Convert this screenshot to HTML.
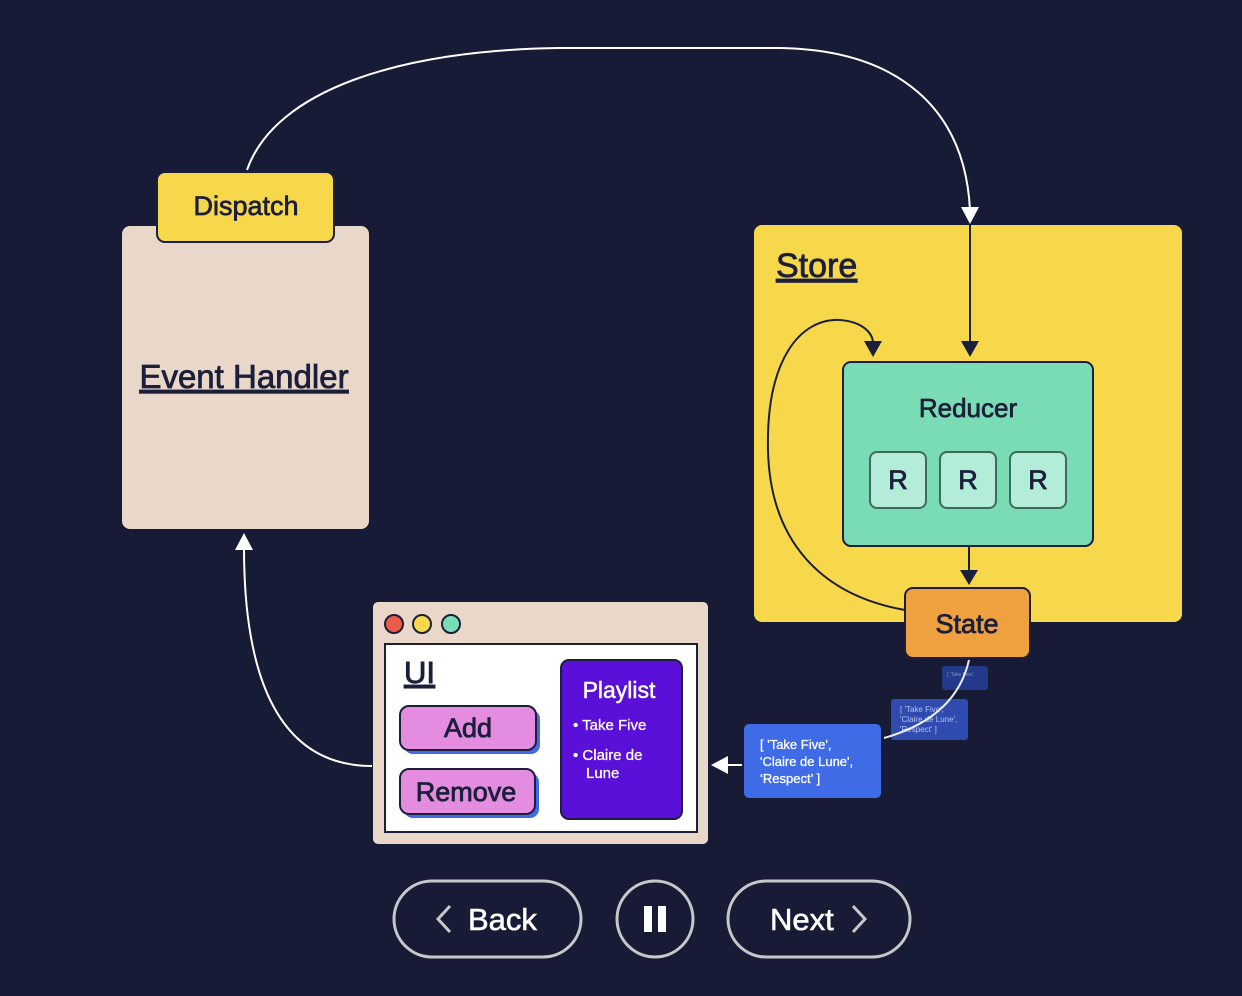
<!DOCTYPE html>
<html><head><meta charset="utf-8"><style>
body{margin:0;width:1242px;height:996px;background:#171b36;overflow:hidden;font-family:"Liberation Sans",sans-serif}
svg{position:absolute;left:0;top:0}
text{paint-order:stroke}
</style></head><body>
<svg width="1242" height="996" viewBox="0 0 1242 996" font-family="Liberation Sans, sans-serif">
<!-- big top curve -->
<path d="M247,170 C275,90 400,50 560,48 L780,48 C900,50 965,110 970,210" fill="none" stroke="#fff" stroke-width="2"/>
<path d="M961,207 L979,207 L970,224 z" fill="#fff"/>
<!-- Event handler -->
<rect x="122" y="226" width="247" height="303" rx="8" fill="#e9d8c9"/>
<text x="244" y="388" text-anchor="middle" font-size="33" fill="#1c1f3a" stroke="#1c1f3a" stroke-width="0.8" text-decoration="underline">Event Handler</text>
<rect x="157" y="172" width="177" height="70" rx="8" fill="#f7d84b" stroke="#1c1f3a" stroke-width="2"/>
<text x="246" y="215" text-anchor="middle" font-size="27" fill="#1c1f3a" stroke="#1c1f3a" stroke-width="0.7">Dispatch</text>
<!-- Store -->
<rect x="754" y="225" width="428" height="397" rx="8" fill="#f7d84b"/>
<text x="776" y="277" font-size="34" fill="#1c1f3a" stroke="#1c1f3a" stroke-width="0.8" text-decoration="underline">Store</text>
<line x1="970" y1="225" x2="970" y2="345" stroke="#1c1f3a" stroke-width="2"/>
<path d="M961,341 L979,341 L970,357 z" fill="#1c1f3a"/>
<path d="M905,610 C820,595 770,540 768,450 C766,360 800,318 840,320 C865,322 873,335 873,343" fill="none" stroke="#1c1f3a" stroke-width="2"/>
<path d="M864,341 L882,341 L873,357 z" fill="#1c1f3a"/>
<rect x="843" y="362" width="250" height="184" rx="8" fill="#7adcb5" stroke="#1c1f3a" stroke-width="2"/>
<text x="968" y="417" text-anchor="middle" font-size="26" fill="#1c1f3a" stroke="#1c1f3a" stroke-width="0.7">Reducer</text>
<g font-size="27" fill="#1c1f3a" stroke="#1c1f3a" stroke-width="0.8" text-anchor="middle">
<rect x="870" y="452" width="56" height="56" rx="7" fill="#b3ecd9" stroke="#3c6a5e" stroke-width="2"/><text x="898" y="489">R</text>
<rect x="940" y="452" width="56" height="56" rx="7" fill="#b3ecd9" stroke="#3c6a5e" stroke-width="2"/><text x="968" y="489">R</text>
<rect x="1010" y="452" width="56" height="56" rx="7" fill="#b3ecd9" stroke="#3c6a5e" stroke-width="2"/><text x="1038" y="489">R</text>
</g>
<line x1="969" y1="546" x2="969" y2="572" stroke="#1c1f3a" stroke-width="2"/>
<path d="M960,570 L978,570 L969,585 z" fill="#1c1f3a"/>
<rect x="905" y="588" width="125" height="70" rx="8" fill="#f0a13f" stroke="#1c1f3a" stroke-width="2"/>
<text x="967" y="633" text-anchor="middle" font-size="27" fill="#1c1f3a" stroke="#1c1f3a" stroke-width="0.8">State</text>
<!-- faint boxes -->
<rect x="942" y="666" width="46" height="24" rx="3" fill="#23398a"/>
<text x="947" y="676" font-size="5" fill="#8893c8">[ 'Take Five',</text>
<rect x="891" y="699" width="77" height="41" rx="3" fill="#2f4bb0"/>
<g font-size="8" fill="#b6c0ee"><text x="900" y="712">[ 'Take Five',</text><text x="900" y="722">'Claire de Lune',</text><text x="900" y="732">'Respect' ]</text></g>
<path d="M969,660 C960,700 930,725 884,738" fill="none" stroke="#fff" stroke-width="2" opacity="0.9"/>
<rect x="744" y="724" width="137" height="74" rx="5" fill="#3f6be6"/>
<g font-size="13" fill="#fff" stroke="#fff" stroke-width="0.3"><text x="760" y="749">[ 'Take Five',</text><text x="760" y="766">'Claire de Lune',</text><text x="760" y="783">‘Respect’ ]</text></g>
<line x1="742" y1="765" x2="725" y2="765" stroke="#fff" stroke-width="2"/>
<path d="M728,756 L728,774 L711,765 z" fill="#fff"/>
<!-- UI to Event Handler -->
<path d="M372,766 C280,766 244,680 244,548" fill="none" stroke="#fff" stroke-width="2"/>
<path d="M235,550 L253,550 L244,533 z" fill="#fff"/>
<!-- UI window -->
<rect x="373" y="602" width="335" height="242" rx="5" fill="#e9d8c9"/>
<circle cx="394" cy="624" r="9" fill="#ec5a48" stroke="#1c1f3a" stroke-width="2"/>
<circle cx="422" cy="624" r="9" fill="#f7d84b" stroke="#1c1f3a" stroke-width="2"/>
<circle cx="451" cy="624" r="9" fill="#7adcb5" stroke="#1c1f3a" stroke-width="2"/>
<rect x="385" y="644" width="312" height="188" fill="#fff" stroke="#1c1f3a" stroke-width="2"/>
<text x="404" y="683" font-size="31" fill="#1c1f3a" stroke="#1c1f3a" stroke-width="0.9" text-decoration="underline">UI</text>
<rect x="404" y="710" width="136" height="44" rx="9" fill="#3f6be6"/>
<rect x="400" y="706" width="136" height="44" rx="9" fill="#e38ce0" stroke="#1c1f3a" stroke-width="2"/>
<text x="468" y="737" text-anchor="middle" font-size="27" fill="#1c1f3a" stroke="#1c1f3a" stroke-width="0.8">Add</text>
<rect x="404" y="773" width="135" height="45" rx="9" fill="#3f6be6"/>
<rect x="400" y="769" width="135" height="45" rx="9" fill="#e38ce0" stroke="#1c1f3a" stroke-width="2"/>
<text x="466" y="801" text-anchor="middle" font-size="27" fill="#1c1f3a" stroke="#1c1f3a" stroke-width="0.8">Remove</text>
<rect x="561" y="660" width="121" height="159" rx="8" fill="#5b10d9" stroke="#1c1f3a" stroke-width="2"/>
<text x="619" y="698" text-anchor="middle" font-size="23" fill="#fff" stroke="#fff" stroke-width="0.5">Playlist</text>
<g font-size="15" fill="#fff" stroke="#fff" stroke-width="0.3"><text x="573" y="730">• Take Five</text><text x="573" y="760">• Claire de</text><text x="586" y="778">Lune</text></g>
<!-- controls -->
<g fill="none" stroke="#c8c8c8" stroke-width="3">
<rect x="394" y="881" width="187" height="76" rx="38"/>
<rect x="617" y="881" width="76" height="76" rx="38"/>
<rect x="728" y="881" width="182" height="76" rx="38"/>
<path d="M450,906 L438,919 L450,932"/>
<path d="M853,906 L865,919 L853,932"/>
</g>
<text x="468" y="930" font-size="31" fill="#fff" stroke="#fff" stroke-width="0.6">Back</text>
<text x="770" y="930" font-size="31" fill="#fff" stroke="#fff" stroke-width="0.6">Next</text>
<rect x="644" y="906" width="8" height="26" fill="#fff"/>
<rect x="658" y="906" width="8" height="26" fill="#fff"/>
</svg>
</body></html>
